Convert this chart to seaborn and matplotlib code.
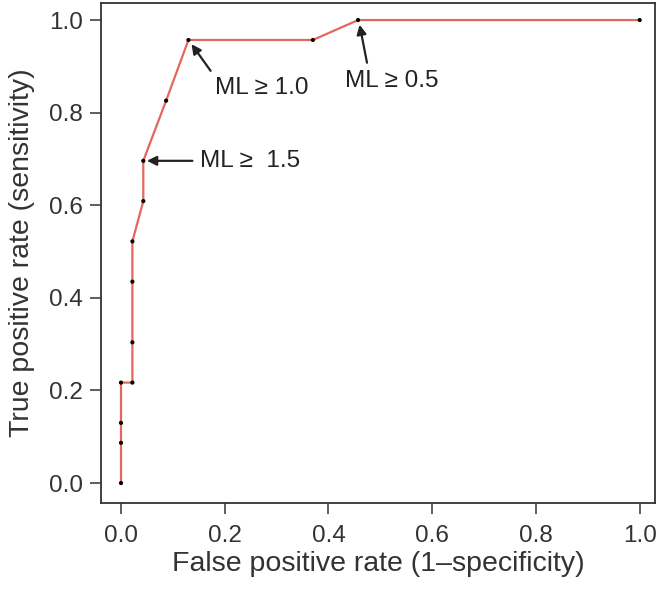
import numpy as np
import pandas as pd
import matplotlib
matplotlib.use('Agg')
import matplotlib.pyplot as plt
import seaborn as sns

# ROC points
fpr = [0.0, 0.0, 0.0, 0.0, 0.022, 0.022, 0.022, 0.022, 0.043, 0.043, 0.087, 0.130, 0.370, 0.457, 1.0]
tpr = [0.0, 0.087, 0.130, 0.217, 0.217, 0.304, 0.435, 0.522, 0.609, 0.696, 0.826, 0.957, 0.957, 1.0, 1.0]

# cut-off labels: text, point, text position
cut_labels = ['ML \u2265  1.5', 'ML \u2265 1.0', 'ML \u2265 0.5']
cut_points = [(0.050, 0.696), (0.136, 0.948), (0.460, 0.990)]
cut_text = [(0.152, 0.696), (0.182, 0.876), (0.432, 0.892)]
cut_relpos = [(0.0, 0.5), (0.0, 1.0), (0.25, 1.0)]

ticks = [0.0, 0.2, 0.4, 0.6, 0.8, 1.0]

sns.set_style('ticks')
plt.rcParams['font.family'] = ['Liberation Sans', 'DejaVu Sans']

roc = pd.DataFrame({'fpr': fpr, 'tpr': tpr})

fig = plt.figure(figsize=(6.62, 5.9), dpi=100)
ax = fig.add_axes([0.1526, 0.1475, 0.8364, 0.8475])

sns.lineplot(data=roc, x='fpr', y='tpr', sort=False, estimator=None,
             color='#e4675d', lw=1.6, ax=ax)
sns.scatterplot(data=roc, x='fpr', y='tpr', color='black', s=9,
                edgecolor='none', ax=ax, zorder=3)

for lab, pt, tx, rp in zip(cut_labels, cut_points, cut_text, cut_relpos):
    ax.annotate(lab, xy=pt, xytext=tx, ha='left', va='center' if rp[1] == 0.5 else 'top',
                fontsize=17.5, color='#222222',
                arrowprops=dict(arrowstyle='-|>', color='#222222', lw=1.6,
                                mutation_scale=14, relpos=rp,
                                shrinkA=3, shrinkB=0))

ax.set_xlim(-0.0385, 1.029)
ax.set_ylim(-0.043, 1.037)
ax.set_xticks(ticks)
ax.set_yticks(ticks)
ax.set_xticklabels(['%.1f' % t for t in ticks])
ax.set_yticklabels(['%.1f' % t for t in ticks])
ax.tick_params(axis='both', length=8, width=1.1, labelsize=17.5,
               color='#333333', labelcolor='#333333')
ax.tick_params(axis='x', pad=8)
ax.tick_params(axis='y', pad=5)
for s in ax.spines.values():
    s.set_visible(True)
    s.set_linewidth(1.3)
    s.set_color('#333333')

ax.set_xlabel('False positive rate (1\u2013specificity)', fontsize=20.5, color='#333333', labelpad=3)
ax.set_ylabel('True positive rate (sensitivity)', fontsize=20.5, color='#333333', labelpad=10)

plt.savefig('out.png', dpi=100)
